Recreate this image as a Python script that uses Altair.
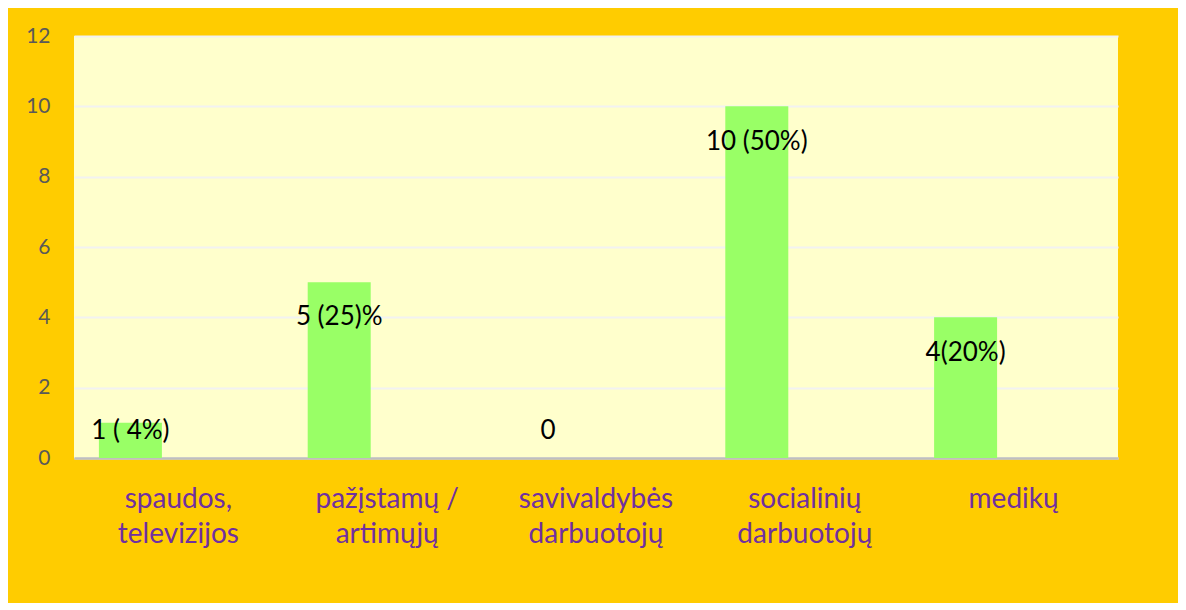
import altair as alt
import pandas as pd

categories = [
    "spaudos,\ntelevizijos",
    "pažįstamų /\nartimųjų",
    "savivaldybės\ndarbuotojų",
    "socialinių\ndarbuotojų",
    "medikų",
]
values = [1, 5, 0, 10, 4]
labels = ["1 ( 4%)", "5 (25)%", "0", "10 (50%)", "4(20%)"]
y_ticks = [0, 2, 4, 6, 8, 10, 12]

df = pd.DataFrame({"cat": categories, "value": values, "label": labels})

FONT = "Lato"

x_enc = alt.X(
    "cat:N",
    sort=categories,
    scale=alt.Scale(paddingInner=0, paddingOuter=0),
    axis=alt.Axis(
        title=None,
        labelExpr="split(datum.label, '\\n')",
        labelAngle=0,
        labelFont=FONT,
        labelFontSize=28,
        labelColor="#7030A0",
        labelPadding=27,
        labelBaseline="top",
        labelLineHeight=35,
        labelLimit=300,
        ticks=False,
        domainColor="#BFBFBF",
        domainWidth=2.5,
        grid=False,
        minExtent=137,
        maxExtent=137,
    ),
)

y_scale = alt.Scale(domain=[0, 12], nice=False)

bars = alt.Chart(df).mark_bar(width=63, xOffset=-48, color="#99FF66").encode(
    x=x_enc,
    y=alt.Y(
        "value:Q",
        scale=y_scale,
        axis=alt.Axis(
            title=None,
            values=y_ticks,
            labelFont=FONT,
            labelFontSize=21,
            labelColor="#595959",
            labelPadding=24,
            ticks=False,
            domain=False,
            grid=True,
            gridColor="#F2F2F2",
            gridWidth=2,
            minExtent=58,
            maxExtent=58,
        ),
    ),
)

text = alt.Chart(df).transform_calculate(
    label_y="max(datum.value - 1, 0.78)"
).mark_text(
    xOffset=-48, font=FONT, fontSize=26, color="#000000", baseline="middle", align="center"
).encode(
    x=alt.X("cat:N", sort=categories),
    y=alt.Y("label_y:Q", scale=y_scale),
    text="label:N",
)

chart = (
    alt.layer(bars, text)
    .properties(
        width=1044,
        height=422,
        background="#FFCC00",
        padding={"left": 8, "top": 17, "right": 60, "bottom": 8},
    )
    .configure_view(fill="#FFFFCC", stroke=None)
)

chart.save("out.html", embed_options={"renderer": "svg", "actions": False})
